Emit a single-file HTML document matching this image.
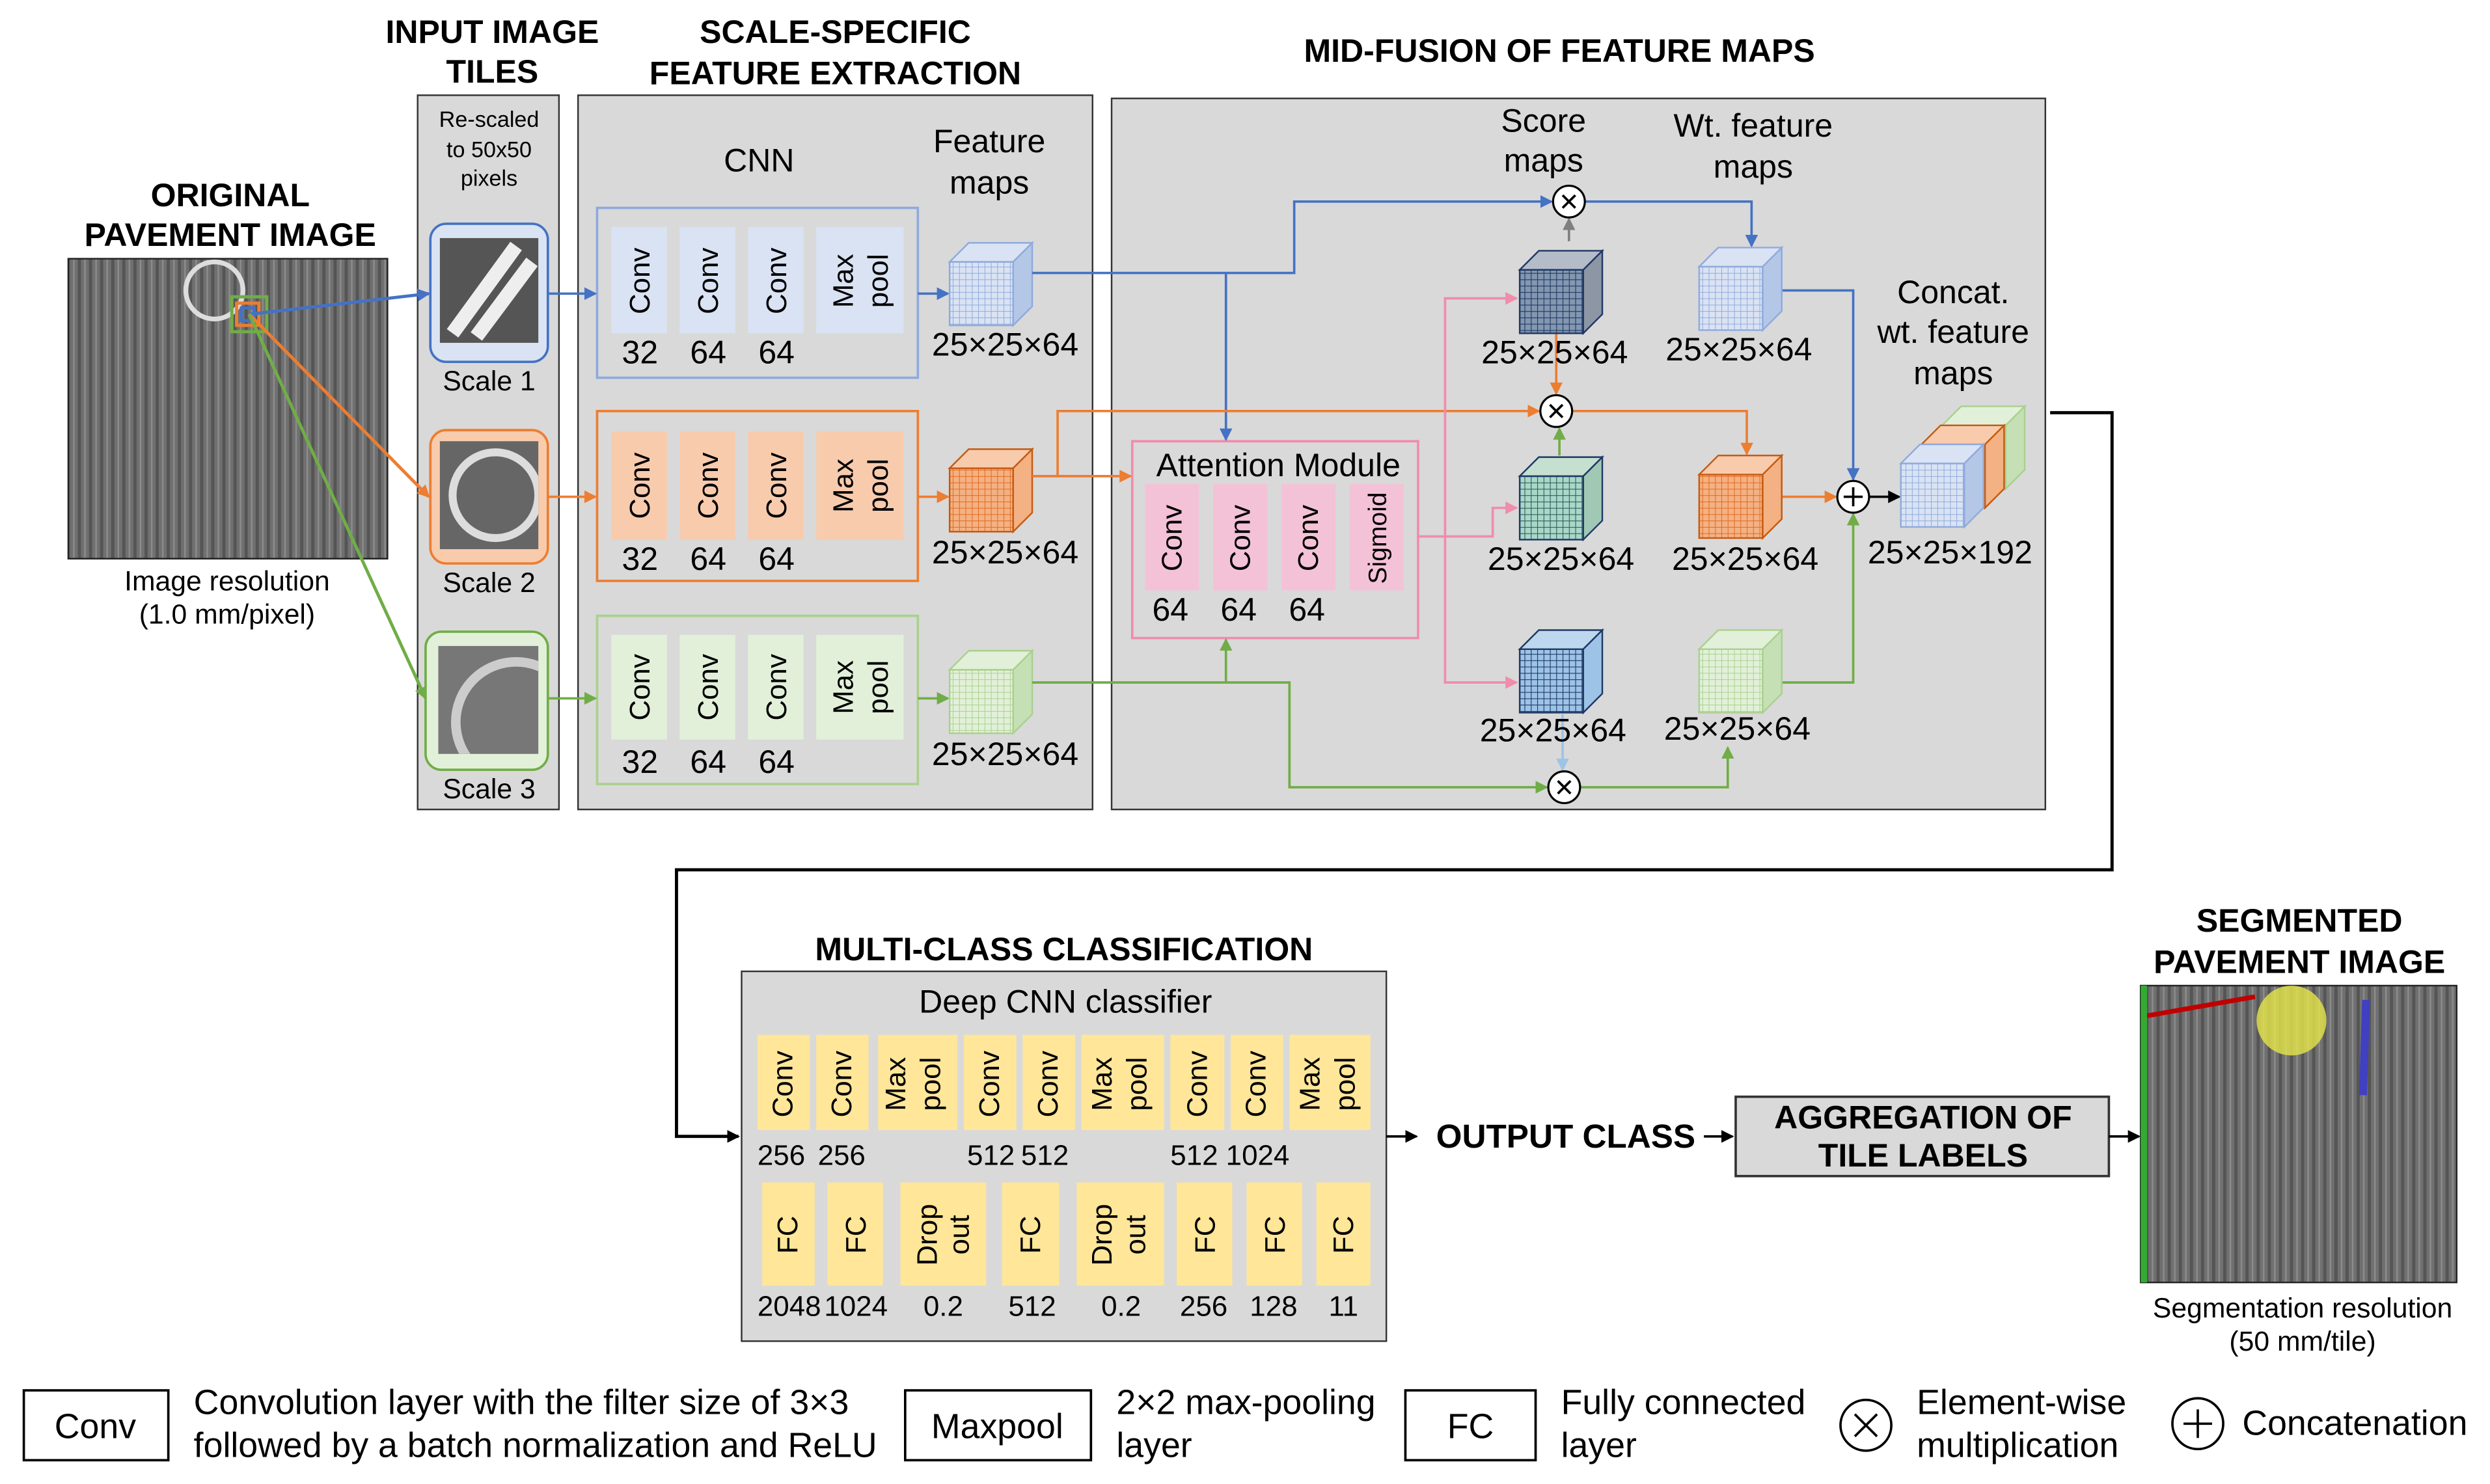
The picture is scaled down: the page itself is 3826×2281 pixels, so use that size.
<!DOCTYPE html>
<html><head><meta charset="utf-8"><style>
html,body{margin:0;padding:0;background:#fff}
svg{display:block}
text{font-family:"Liberation Sans",Arial,sans-serif;fill:#000}
.t{font-size:20.5px;font-weight:bold;text-anchor:middle}
.l{font-size:20.5px;text-anchor:middle}
.s{font-size:17.5px;text-anchor:middle}
.v{font-size:18px;text-anchor:middle}
.g{font-size:22px}
</style></head><body>
<svg width="3826" height="2281" viewBox="0 0 1568 935" preserveAspectRatio="none" xmlns="http://www.w3.org/2000/svg">
<defs>
<pattern id="stripes" width="7" height="10" patternUnits="userSpaceOnUse"><rect width="7" height="10" fill="#707070"/><rect width="2" height="10" fill="#555"/><rect x="4" width="1" height="10" fill="#8c8c8c"/></pattern>
<pattern id="gB" width="4" height="4" patternUnits="userSpaceOnUse"><rect width="4" height="4" fill="#dae3f3"/><path d="M0 0H4M0 0V4" stroke="#8faadc" stroke-width="0.8"/></pattern>
<pattern id="gO" width="4" height="4" patternUnits="userSpaceOnUse"><rect width="4" height="4" fill="#f4b183"/><path d="M0 0H4M0 0V4" stroke="#e06a20" stroke-width="0.8"/></pattern>
<pattern id="gG" width="4" height="4" patternUnits="userSpaceOnUse"><rect width="4" height="4" fill="#e2f0d9"/><path d="M0 0H4M0 0V4" stroke="#a9d18e" stroke-width="0.8"/></pattern>
<pattern id="gD" width="4" height="4" patternUnits="userSpaceOnUse"><rect width="4" height="4" fill="#8497b0"/><path d="M0 0H4M0 0V4" stroke="#1f3864" stroke-width="0.9"/></pattern>
<pattern id="gT" width="4" height="4" patternUnits="userSpaceOnUse"><rect width="4" height="4" fill="#a9d8c8"/><path d="M0 0H4M0 0V4" stroke="#2e5d5a" stroke-width="0.9"/></pattern>
<pattern id="gK" width="4" height="4" patternUnits="userSpaceOnUse"><rect width="4" height="4" fill="#9dc3e6"/><path d="M0 0H4M0 0V4" stroke="#1f3864" stroke-width="0.9"/></pattern>
<clipPath id="c3"><rect x="276" y="407" width="63" height="68"/></clipPath>
<clipPath id="c2"><rect x="277" y="278" width="62" height="68"/></clipPath>
<marker id="aB" markerWidth="8" markerHeight="8" refX="7" refY="4" orient="auto" markerUnits="userSpaceOnUse"><path d="M0 0L8 4L0 8z" fill="#4472c4"/></marker>
<marker id="aO" markerWidth="8" markerHeight="8" refX="7" refY="4" orient="auto" markerUnits="userSpaceOnUse"><path d="M0 0L8 4L0 8z" fill="#ed7d31"/></marker>
<marker id="aG" markerWidth="8" markerHeight="8" refX="7" refY="4" orient="auto" markerUnits="userSpaceOnUse"><path d="M0 0L8 4L0 8z" fill="#70ad47"/></marker>
<marker id="aP" markerWidth="8" markerHeight="8" refX="7" refY="4" orient="auto" markerUnits="userSpaceOnUse"><path d="M0 0L8 4L0 8z" fill="#f08cac"/></marker>
<marker id="aK" markerWidth="8" markerHeight="8" refX="7" refY="4" orient="auto" markerUnits="userSpaceOnUse"><path d="M0 0L8 4L0 8z" fill="#000"/></marker>
<marker id="aY" markerWidth="8" markerHeight="8" refX="7" refY="4" orient="auto" markerUnits="userSpaceOnUse"><path d="M0 0L8 4L0 8z" fill="#7f7f7f"/></marker>
<marker id="aL" markerWidth="8" markerHeight="8" refX="7" refY="4" orient="auto" markerUnits="userSpaceOnUse"><path d="M0 0L8 4L0 8z" fill="#9dc3e6"/></marker>
</defs>

<!-- original image -->
<text class="t" x="145" y="130">ORIGINAL</text>
<text class="t" x="145" y="155">PAVEMENT IMAGE</text>
<rect x="43" y="163" width="201" height="189" fill="url(#stripes)" stroke="#222"/>
<circle cx="135" cy="183" r="18" fill="none" stroke="#ddd" stroke-width="3"/>
<rect x="146" y="187" width="22" height="22" fill="none" stroke="#70ad47" stroke-width="2"/>
<rect x="149" y="191" width="14" height="14" fill="none" stroke="#ed7d31" stroke-width="2"/>
<rect x="152" y="194" width="8" height="8" fill="none" stroke="#4472c4" stroke-width="2"/>
<text class="s" x="143" y="372">Image resolution</text>
<text class="s" x="143" y="393">(1.0 mm/pixel)</text>

<!-- input tiles -->
<text class="t" x="310" y="27">INPUT IMAGE</text>
<text class="t" x="310" y="52">TILES</text>
<rect x="263" y="60" width="89" height="450" fill="#d9d9d9" stroke="#333"/>
<text x="308" y="80" style="font-size:14px;text-anchor:middle">Re-scaled</text>
<text x="308" y="99" style="font-size:14px;text-anchor:middle">to 50x50</text>
<text x="308" y="117" style="font-size:14px;text-anchor:middle">pixels</text>
<rect x="271" y="141" width="74" height="87" rx="10" fill="#dae3f3" stroke="#4472c4" stroke-width="1.5"/>
<rect x="277" y="150" width="62" height="66" fill="#555"/><path d="M285 210L325 155M300 212L335 165" stroke="#eee" stroke-width="9"/>
<text class="l" x="308" y="246" style="font-size:17.5px">Scale 1</text>
<rect x="271" y="271" width="74" height="84" rx="10" fill="#f8cbad" stroke="#ed7d31" stroke-width="1.5"/>
<rect x="277" y="278" width="62" height="68" fill="#666"/><circle cx="312" cy="312" r="27" fill="none" stroke="#ddd" stroke-width="5" clip-path="url(#c2)"/>
<text class="l" x="308" y="373" style="font-size:17.5px">Scale 2</text>
<rect x="268" y="398" width="77" height="87" rx="10" fill="#e2f0d9" stroke="#70ad47" stroke-width="1.5"/>
<rect x="276" y="407" width="63" height="68" fill="#777"/><circle cx="325" cy="455" r="38" fill="none" stroke="#ccc" stroke-width="6" clip-path="url(#c3)"/>
<text class="l" x="308" y="503" style="font-size:17.5px">Scale 3</text>

<line x1="157" y1="198" x2="270" y2="185" stroke="#4472c4" stroke-width="2" marker-end="url(#aB)"/>
<line x1="157" y1="198" x2="270" y2="313" stroke="#ed7d31" stroke-width="2" marker-end="url(#aO)"/>
<line x1="157" y1="198" x2="268" y2="440" stroke="#70ad47" stroke-width="2" marker-end="url(#aG)"/>

<!-- scale specific -->
<text class="t" x="526" y="27">SCALE-SPECIFIC</text>
<text class="t" x="526" y="53">FEATURE EXTRACTION</text>
<rect x="364" y="60" width="324" height="450" fill="#d9d9d9" stroke="#333"/>
<text class="l" x="478" y="108">CNN</text>
<text class="l" x="623" y="96">Feature</text>
<text class="l" x="623" y="122">maps</text>

<rect x="376" y="131" width="202" height="107" fill="#d9d9d9" stroke="#8faadc" stroke-width="1.5"/>
<rect x="385" y="143" width="35" height="67" fill="#dae3f3"/><rect x="428" y="143" width="35" height="67" fill="#dae3f3"/><rect x="471" y="143" width="35" height="67" fill="#dae3f3"/><rect x="514" y="143" width="55" height="67" fill="#dae3f3"/>
<rect x="376" y="259" width="202" height="107" fill="#d9d9d9" stroke="#ed7d31" stroke-width="1.5"/>
<rect x="385" y="272" width="35" height="68" fill="#f8cbad"/><rect x="428" y="272" width="35" height="68" fill="#f8cbad"/><rect x="471" y="272" width="35" height="68" fill="#f8cbad"/><rect x="514" y="272" width="55" height="68" fill="#f8cbad"/>
<rect x="376" y="388" width="202" height="106" fill="#d9d9d9" stroke="#a9d18e" stroke-width="1.5"/>
<rect x="385" y="400" width="35" height="66" fill="#e2f0d9"/><rect x="428" y="400" width="35" height="66" fill="#e2f0d9"/><rect x="471" y="400" width="35" height="66" fill="#e2f0d9"/><rect x="514" y="400" width="55" height="66" fill="#e2f0d9"/>

<text class="v" transform="translate(409,177) rotate(-90)">Conv</text>
<text class="v" transform="translate(452,177) rotate(-90)">Conv</text>
<text class="v" transform="translate(495,177) rotate(-90)">Conv</text>
<text class="v" transform="translate(537,177) rotate(-90)">Max</text>
<text class="v" transform="translate(559,177) rotate(-90)">pool</text>
<text class="v" transform="translate(409,306) rotate(-90)">Conv</text>
<text class="v" transform="translate(452,306) rotate(-90)">Conv</text>
<text class="v" transform="translate(495,306) rotate(-90)">Conv</text>
<text class="v" transform="translate(537,306) rotate(-90)">Max</text>
<text class="v" transform="translate(559,306) rotate(-90)">pool</text>
<text class="v" transform="translate(409,433) rotate(-90)">Conv</text>
<text class="v" transform="translate(452,433) rotate(-90)">Conv</text>
<text class="v" transform="translate(495,433) rotate(-90)">Conv</text>
<text class="v" transform="translate(537,433) rotate(-90)">Max</text>
<text class="v" transform="translate(559,433) rotate(-90)">pool</text>
<text class="l" x="403" y="229">32</text><text class="l" x="446" y="229">64</text><text class="l" x="489" y="229">64</text>
<text class="l" x="403" y="359">32</text><text class="l" x="446" y="359">64</text><text class="l" x="489" y="359">64</text>
<text class="l" x="403" y="487">32</text><text class="l" x="446" y="487">64</text><text class="l" x="489" y="487">64</text>

<line x1="345" y1="185" x2="375" y2="185" stroke="#4472c4" stroke-width="1.5" marker-end="url(#aB)"/>
<line x1="345" y1="313" x2="375" y2="313" stroke="#ed7d31" stroke-width="1.5" marker-end="url(#aO)"/>
<line x1="345" y1="440" x2="375" y2="440" stroke="#70ad47" stroke-width="1.5" marker-end="url(#aG)"/>
<line x1="578" y1="185" x2="597" y2="185" stroke="#4472c4" stroke-width="1.5" marker-end="url(#aB)"/>
<line x1="578" y1="313" x2="597" y2="313" stroke="#ed7d31" stroke-width="1.5" marker-end="url(#aO)"/>
<line x1="578" y1="440" x2="597" y2="440" stroke="#70ad47" stroke-width="1.5" marker-end="url(#aG)"/>

<g stroke-width="1">
<rect x="598" y="165" width="40" height="40" fill="url(#gB)" stroke="#8faadc"/><path d="M598 165L610 153H650L638 165Z" fill="#dae3f3" stroke="#8faadc"/><path d="M638 165L650 153V193L638 205Z" fill="#b4c7e7" stroke="#8faadc"/>
<rect x="598" y="295" width="40" height="40" fill="url(#gO)" stroke="#c55a11"/><path d="M598 295L610 283H650L638 295Z" fill="#f8cbad" stroke="#c55a11"/><path d="M638 295L650 283V323L638 335Z" fill="#f4b183" stroke="#c55a11"/>
<rect x="598" y="422" width="40" height="40" fill="url(#gG)" stroke="#a9d18e"/><path d="M598 422L610 410H650L638 422Z" fill="#e2f0d9" stroke="#a9d18e"/><path d="M638 422L650 410V450L638 462Z" fill="#c5e0b4" stroke="#a9d18e"/>
</g>
<text class="l" x="633" y="224">25×25×64</text>
<text class="l" x="633" y="355">25×25×64</text>
<text class="l" x="633" y="482">25×25×64</text>

<!-- mid fusion -->
<text class="t" x="982" y="39">MID-FUSION OF FEATURE MAPS</text>
<rect x="700" y="62" width="588" height="448" fill="#d9d9d9" stroke="#333"/>
<text class="l" x="972" y="83">Score</text><text class="l" x="972" y="108">maps</text>
<text class="l" x="1104" y="86">Wt. feature</text><text class="l" x="1104" y="112">maps</text>
<text class="l" x="1230" y="191">Concat.</text><text class="l" x="1230" y="216">wt. feature</text><text class="l" x="1230" y="242">maps</text>

<rect x="713" y="278" width="180" height="124" fill="#d9d9d9" stroke="#f08cac" stroke-width="1.5"/>
<text class="l" x="805" y="300">Attention Module</text>
<rect x="721" y="305" width="34" height="67" fill="#f4c2d6"/><rect x="764" y="305" width="34" height="67" fill="#f4c2d6"/><rect x="807" y="305" width="34" height="67" fill="#f4c2d6"/><rect x="850" y="305" width="34" height="67" fill="#f4c2d6"/>
<text class="v" transform="translate(744,339) rotate(-90)">Conv</text>
<text class="v" transform="translate(787,339) rotate(-90)">Conv</text>
<text class="v" transform="translate(830,339) rotate(-90)">Conv</text>
<text class="v" transform="translate(873,339) rotate(-90)" style="font-size:16px">Sigmoid</text>
<text class="l" x="737" y="391">64</text><text class="l" x="780" y="391">64</text><text class="l" x="823" y="391">64</text>

<g fill="none" stroke-width="1.5">
<path d="M650 172H815V127H977" stroke="#4472c4" marker-end="url(#aB)"/>
<path d="M772 172V277" stroke="#4472c4" marker-end="url(#aB)"/>
<path d="M650 300H712" stroke="#ed7d31" marker-end="url(#aO)"/>
<path d="M666 300V259H969" stroke="#ed7d31" marker-end="url(#aO)"/>
<path d="M650 430H812V496H974" stroke="#70ad47" marker-end="url(#aG)"/>
<path d="M772 430V403" stroke="#70ad47" marker-end="url(#aG)"/>
<path d="M893 338H910V188H955" stroke="#f08cac" marker-end="url(#aP)"/>
<path d="M910 338H940V320H955" stroke="#f08cac" marker-end="url(#aP)"/>
<path d="M910 338V430H955" stroke="#f08cac" marker-end="url(#aP)"/>
<path d="M988 152V138" stroke="#7f7f7f" marker-end="url(#aY)"/>
<path d="M998 127H1103V155" stroke="#4472c4" marker-end="url(#aB)"/>
<path d="M980 210V248" stroke="#ed7d31" marker-end="url(#aO)"/>
<path d="M982 287V270" stroke="#70ad47" marker-end="url(#aG)"/>
<path d="M990 259H1100V286" stroke="#ed7d31" marker-end="url(#aO)"/>
<path d="M984 450V485" stroke="#9dc3e6" marker-end="url(#aL)"/>
<path d="M995 496H1088V471" stroke="#70ad47" marker-end="url(#aG)"/>
<path d="M1122 183H1167V302" stroke="#4472c4" marker-end="url(#aB)"/>
<path d="M1122 313H1156" stroke="#ed7d31" marker-end="url(#aO)"/>
<path d="M1122 430H1167V324" stroke="#70ad47" marker-end="url(#aG)"/>
<path d="M1177 313H1196" stroke="#000" marker-end="url(#aK)"/>
</g>

<g stroke="#1f3864">
<rect x="957" y="170" width="40" height="40" fill="url(#gD)"/><path d="M957 170L969 158H1009L997 170Z" fill="#b4bcc8"/><path d="M997 170L1009 158V198L997 210Z" fill="#8c96a5"/>
<rect x="957" y="300" width="40" height="40" fill="url(#gT)"/><path d="M957 300L969 288H1009L997 300Z" fill="#c5e0d0"/><path d="M997 300L1009 288V328L997 340Z" fill="#a0c8b5"/>
<rect x="957" y="409" width="40" height="40" fill="url(#gK)"/><path d="M957 409L969 397H1009L997 409Z" fill="#bdd7ee"/><path d="M997 409L1009 397V437L997 449Z" fill="#9dc3e6"/>
</g>
<text class="l" x="979" y="229">25×25×64</text>
<text class="l" x="983" y="359">25×25×64</text>
<text class="l" x="978" y="467">25×25×64</text>
<rect x="1070" y="168" width="40" height="40" fill="url(#gB)" stroke="#8faadc"/><path d="M1070 168L1082 156H1122L1110 168Z" fill="#dae3f3" stroke="#8faadc"/><path d="M1110 168L1122 156V196L1110 208Z" fill="#b4c7e7" stroke="#8faadc"/>
<rect x="1070" y="299" width="40" height="40" fill="url(#gO)" stroke="#c55a11"/><path d="M1070 299L1082 287H1122L1110 299Z" fill="#f8cbad" stroke="#c55a11"/><path d="M1110 299L1122 287V327L1110 339Z" fill="#f4b183" stroke="#c55a11"/>
<rect x="1070" y="409" width="40" height="40" fill="url(#gG)" stroke="#a9d18e"/><path d="M1070 409L1082 397H1122L1110 409Z" fill="#e2f0d9" stroke="#a9d18e"/><path d="M1110 409L1122 397V437L1110 449Z" fill="#c5e0b4" stroke="#a9d18e"/>
<text class="l" x="1095" y="227">25×25×64</text>
<text class="l" x="1099" y="359">25×25×64</text>
<text class="l" x="1094" y="466">25×25×64</text>
<rect x="1223" y="268" width="40" height="40" fill="#e2f0d9" stroke="#a9d18e"/><path d="M1223 268L1235 256H1275L1263 268Z" fill="#e2f0d9" stroke="#a9d18e"/><path d="M1263 268L1275 256V296L1263 308Z" fill="#c5e0b4" stroke="#a9d18e"/>
<rect x="1210" y="280" width="40" height="40" fill="#f8cbad" stroke="#c55a11"/><path d="M1210 280L1222 268H1262L1250 280Z" fill="#f8cbad" stroke="#c55a11"/><path d="M1250 280L1262 268V308L1250 320Z" fill="#f4b183" stroke="#c55a11"/>
<rect x="1197" y="292" width="40" height="40" fill="url(#gB)" stroke="#8faadc"/><path d="M1197 292L1209 280H1249L1237 292Z" fill="#dae3f3" stroke="#8faadc"/><path d="M1237 292L1249 280V320L1237 332Z" fill="#b4c7e7" stroke="#8faadc"/>
<text class="l" x="1228" y="355">25×25×192</text>

<g stroke="#000" stroke-width="1.3" fill="#fff">
<circle cx="988" cy="127" r="10"/><circle cx="980" cy="259" r="10"/><circle cx="985" cy="496" r="10"/><circle cx="1167" cy="313" r="10"/>
</g>
<g stroke="#000" stroke-width="1.5">
<path d="M984 123l8 8M992 123l-8 8"/><path d="M976 255l8 8M984 255l-8 8"/><path d="M981 492l8 8M989 492l-8 8"/><path d="M1161 313h12M1167 307v12"/>
</g>

<path d="M1291 260H1330V548H426V716H465" fill="none" stroke="#000" stroke-width="2" marker-end="url(#aK)"/>

<!-- classification -->
<text class="t" x="670" y="605">MULTI-CLASS CLASSIFICATION</text>
<rect x="467" y="612" width="406" height="233" fill="#d9d9d9" stroke="#333"/>
<text class="l" x="671" y="638">Deep CNN classifier</text>
<g fill="#ffe699">
<rect x="477" y="652" width="33" height="60"/><rect x="514" y="652" width="33" height="60"/><rect x="553" y="652" width="50" height="60"/>
<rect x="607" y="652" width="33" height="60"/><rect x="644" y="652" width="33" height="60"/><rect x="681" y="652" width="52" height="60"/>
<rect x="737" y="652" width="34" height="60"/><rect x="775" y="652" width="33" height="60"/><rect x="812" y="652" width="51" height="60"/>
<rect x="480" y="745" width="33" height="65"/><rect x="521" y="745" width="35" height="65"/><rect x="567" y="745" width="54" height="65"/>
<rect x="631" y="745" width="36" height="65"/><rect x="678" y="745" width="55" height="65"/><rect x="741" y="745" width="35" height="65"/>
<rect x="785" y="745" width="35" height="65"/><rect x="829" y="745" width="34" height="65"/>
</g>
<text class="v" transform="translate(499,683) rotate(-90)">Conv</text>
<text class="v" transform="translate(536,683) rotate(-90)">Conv</text>
<text class="v" transform="translate(570,683) rotate(-90)">Max</text>
<text class="v" transform="translate(592,683) rotate(-90)">pool</text>
<text class="v" transform="translate(629,683) rotate(-90)">Conv</text>
<text class="v" transform="translate(666,683) rotate(-90)">Conv</text>
<text class="v" transform="translate(700,683) rotate(-90)">Max</text>
<text class="v" transform="translate(722,683) rotate(-90)">pool</text>
<text class="v" transform="translate(760,683) rotate(-90)">Conv</text>
<text class="v" transform="translate(797,683) rotate(-90)">Conv</text>
<text class="v" transform="translate(831,683) rotate(-90)">Max</text>
<text class="v" transform="translate(853,683) rotate(-90)">pool</text>
<text class="v" transform="translate(502,778) rotate(-90)">FC</text>
<text class="v" transform="translate(545,778) rotate(-90)">FC</text>
<text class="v" transform="translate(590,778) rotate(-90)">Drop</text>
<text class="v" transform="translate(610,778) rotate(-90)">out</text>
<text class="v" transform="translate(655,778) rotate(-90)">FC</text>
<text class="v" transform="translate(700,778) rotate(-90)">Drop</text>
<text class="v" transform="translate(721,778) rotate(-90)">out</text>
<text class="v" transform="translate(765,778) rotate(-90)">FC</text>
<text class="v" transform="translate(809,778) rotate(-90)">FC</text>
<text class="v" transform="translate(852,778) rotate(-90)">FC</text>
<text class="v" x="492" y="734">256</text><text class="v" x="530" y="734">256</text><text class="v" x="624" y="734">512</text><text class="v" x="658" y="734">512</text><text class="v" x="752" y="734">512</text><text class="v" x="792" y="734">1024</text>
<text class="v" x="497" y="829">2048</text><text class="v" x="539" y="829">1024</text><text class="v" x="594" y="829">0.2</text><text class="v" x="650" y="829">512</text><text class="v" x="706" y="829">0.2</text><text class="v" x="758" y="829">256</text><text class="v" x="802" y="829">128</text><text class="v" x="846" y="829">11</text>

<line x1="873" y1="716" x2="892" y2="716" stroke="#000" stroke-width="1.5" marker-end="url(#aK)"/>
<text x="986" y="723" style="font-size:21px;font-weight:bold;text-anchor:middle">OUTPUT CLASS</text>
<line x1="1073" y1="716" x2="1091" y2="716" stroke="#000" stroke-width="1.5" marker-end="url(#aK)"/>
<rect x="1093" y="691" width="235" height="50" fill="#d9d9d9" stroke="#333" stroke-width="1.5"/>
<text class="t" x="1211" y="711">AGGREGATION OF</text>
<text class="t" x="1211" y="735">TILE LABELS</text>
<line x1="1328" y1="716" x2="1347" y2="716" stroke="#000" stroke-width="1.5" marker-end="url(#aK)"/>

<text class="t" x="1448" y="587">SEGMENTED</text>
<text class="t" x="1448" y="613">PAVEMENT IMAGE</text>
<rect x="1348" y="621" width="199" height="187" fill="url(#stripes)" stroke="#222"/>
<circle cx="1443" cy="643" r="22" fill="#e6e64a" opacity="0.8"/>
<path d="M1352 640L1420 628" stroke="#c00000" stroke-width="3"/>
<path d="M1490 630L1488 690" stroke="#4040c0" stroke-width="5"/>
<rect x="1348" y="621" width="4" height="187" fill="#3a3"/>
<text class="s" x="1450" y="830">Segmentation  resolution</text>
<text class="s" x="1450" y="851">(50 mm/tile)</text>

<!-- legend -->
<rect x="15" y="876" width="91" height="44" fill="#fff" stroke="#000" stroke-width="1.5"/>
<text class="l" x="60" y="906" style="font-size:22px">Conv</text>
<text class="g" x="122" y="891">Convolution layer with the filter size of 3×3</text>
<text class="g" x="122" y="918">followed by a batch normalization and ReLU</text>
<rect x="570" y="876" width="117" height="44" fill="#fff" stroke="#000" stroke-width="1.5"/>
<text class="l" x="628" y="906" style="font-size:22px">Maxpool</text>
<text class="g" x="703" y="891">2×2 max-pooling</text>
<text class="g" x="703" y="918">layer</text>
<rect x="885" y="876" width="82" height="44" fill="#fff" stroke="#000" stroke-width="1.5"/>
<text class="l" x="926" y="906" style="font-size:22px">FC</text>
<text class="g" x="983" y="891">Fully connected</text>
<text class="g" x="983" y="918">layer</text>
<circle cx="1175" cy="898" r="16" fill="#fff" stroke="#000" stroke-width="1.5"/>
<path d="M1168 891l14 14M1182 891l-14 14" stroke="#000" stroke-width="1.5"/>
<text class="g" x="1207" y="891">Element-wise</text>
<text class="g" x="1207" y="918">multiplication</text>
<circle cx="1384" cy="897" r="16" fill="#fff" stroke="#000" stroke-width="1.5"/>
<path d="M1375 897h18M1384 888v18" stroke="#000" stroke-width="1.5"/>
<text class="g" x="1412" y="904">Concatenation</text>
</svg>
</body></html>
